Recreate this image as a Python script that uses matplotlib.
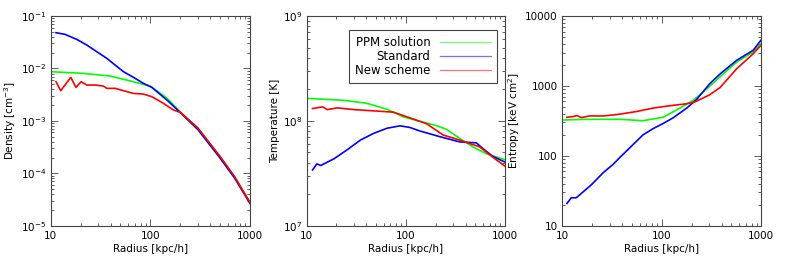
"""Radial profiles: density, temperature and entropy for three hydro schemes."""

import matplotlib

matplotlib.use("Agg")
import matplotlib.pyplot as plt
from matplotlib.lines import Line2D
from matplotlib.ticker import FuncFormatter, LogLocator, NullFormatter

# --- density [cm^-3] ---
r_dens_ppm = [10, 21.3, 39.4, 67.6, 99.5, 147, 200, 300, 500, 700, 1000]
dens_ppm = [0.00867, 0.00805, 0.00716, 0.00558, 0.00461, 0.0027, 0.00148,
            0.00072, 0.000208, 8.6e-5, 2.8e-5]
r_dens_std = [11.3, 13.9, 18.2, 23.0, 29.0, 36.5, 44.3, 53.7, 67.6, 85.2,
              103.5, 150, 200, 300, 500, 700, 1000]
dens_std = [0.048, 0.0447, 0.0359, 0.028, 0.0208, 0.0156, 0.0116, 0.00867,
            0.00676, 0.00519, 0.00435, 0.0024, 0.00143, 0.00068, 0.000195,
            8.1e-5, 2.65e-5]
r_dens_new = [11.3, 12.6, 15.9, 17.9, 20.2, 23.0, 27.9, 33.8, 36.5, 44.3,
              53.7, 67.6, 85.2, 103.5, 135, 170.6, 200, 300, 500, 700, 1000]
dens_new = [0.00558, 0.00376, 0.00676, 0.00436, 0.00558, 0.00482, 0.00482,
            0.00461, 0.00417, 0.00417, 0.00376, 0.00334, 0.00324, 0.00289,
            0.00216, 0.00161, 0.00145, 0.00073, 0.00021, 8.6e-5, 2.75e-5]

# --- temperature [K] ---
r_temp_ppm = [10, 23.8, 40.7, 64.6, 94.8, 139, 204, 257, 349, 475, 646, 1000]
temp_ppm = [1.64e8, 1.57e8, 1.47e8, 1.29e8, 1.09e8, 9.9e7, 9.0e7, 8.3e7,
            6.8e7, 5.65e7, 4.86e7, 4.26e7]
r_temp_std = [11.5, 12.7, 13.9, 18.9, 25.7, 34.9, 47.5, 64.6, 87.8, 110, 139,
              220, 349, 513, 598, 753, 1000]
temp_std = [3.4e7, 3.89e7, 3.75e7, 4.35e7, 5.3e7, 6.56e7, 7.6e7, 8.5e7,
            8.97e7, 8.65e7, 8.0e7, 7.07e7, 6.3e7, 6.17e7, 5.45e7, 4.58e7,
            4.04e7]
r_temp_new = [11.5, 14.5, 16.2, 20.4, 30, 51.3, 75.3, 119, 162, 238, 349,
              554, 753, 1000]
temp_new = [1.31e8, 1.36e8, 1.28e8, 1.33e8, 1.28e8, 1.24e8, 1.21e8, 1.04e8,
            9.4e7, 7.33e7, 6.56e7, 5.65e7, 4.5e7, 3.69e7]

# --- entropy [keV cm^2] ---
r_entr_ppm = [10, 17.6, 38, 65, 103.5, 152, 207, 282, 384, 565, 832, 1000]
entr_ppm = [325, 333, 333, 318, 356, 480, 620, 900, 1350, 2190, 3070, 4070]
r_entr_std = [11.2, 12.4, 13.9, 19.7, 25.8, 32.6, 38, 51.7, 65.2, 82.2, 103.5,
              130.5, 178, 224, 305, 385, 565, 832, 1000]
entr_std = [20.8, 25.1, 25.1, 38.5, 57, 75.5, 94.5, 145, 200, 245, 290, 350,
            480, 640, 1080, 1480, 2320, 3250, 4560]
r_entr_new = [11.2, 12.9, 14.1, 15.6, 19, 25.8, 38, 55.8, 82.2, 121, 178, 215,
              300, 385, 565, 832, 1000]
entr_new = [356, 364, 377, 352, 372, 371, 394, 430, 482, 521, 555, 590, 740,
            946, 1754, 2900, 3850]

labels = ["PPM solution", "Standard", "New scheme"]
colors = ["#00ff00", "#0000ff", "#ff0000"]

plt.rcParams["font.family"] = ["DejaVu Sans"]
plt.rcParams["font.size"] = 7.5

fig = plt.figure(figsize=(7.89, 2.62), dpi=100)
axes = [
    fig.add_axes([0.0643, 0.1385, 0.2526, 0.8004]),
    fig.add_axes([0.3885, 0.1385, 0.2516, 0.8004]),
    fig.add_axes([0.7123, 0.1385, 0.2526, 0.8004]),
]

panels = [
    ([(r_dens_ppm, dens_ppm), (r_dens_std, dens_std), (r_dens_new, dens_new)],
     (1e-5, 1e-1), "Density [cm$^{-3}$]"),
    ([(r_temp_ppm, temp_ppm), (r_temp_std, temp_std), (r_temp_new, temp_new)],
     (1e7, 1e9), "Temperature [K]"),
    ([(r_entr_ppm, entr_ppm), (r_entr_std, entr_std), (r_entr_new, entr_new)],
     (10, 1e4), "Entropy [keV cm$^2$]"),
]

edge = "#444444"
for i, (ax, (series, ylim, ylabel)) in enumerate(zip(axes, panels)):
    for (x, y), c in zip(series, colors):
        ax.plot(x, y, color=c, lw=1.2, solid_joinstyle="round")
    ax.set_xscale("log")
    ax.set_yscale("log")
    ax.set_xlim(10, 1000)
    ax.set_ylim(*ylim)
    ax.set_xlabel("Radius [kpc/h]", labelpad=2)
    ax.set_ylabel(ylabel, labelpad=2)
    ax.xaxis.set_major_formatter(FuncFormatter(lambda v, _: f"{v:g}"))
    if i == 2:
        ax.yaxis.set_major_formatter(FuncFormatter(lambda v, _: f"{v:.0f}"))
    ax.yaxis.set_minor_locator(LogLocator(base=10, subs=range(2, 10)))
    ax.yaxis.set_minor_formatter(NullFormatter())
    ax.xaxis.set_minor_formatter(NullFormatter())
    ax.tick_params(which="both", direction="in", top=True, right=True,
                   color=edge, width=0.6)
    ax.tick_params(which="major", length=5, pad=3)
    ax.tick_params(axis="x", which="major", pad=4)
    ax.tick_params(which="minor", length=2.5)
    for s in ax.spines.values():
        s.set_color(edge)
        s.set_linewidth(0.8)

handles = [Line2D([], [], color=c, lw=0.9, alpha=0.55) for c in colors]
leg = axes[1].legend(handles, labels, loc="upper right",
                     bbox_to_anchor=(0.96, 0.933), borderaxespad=0,
                     markerfirst=False, fancybox=False, fontsize=8.5,
                     handlelength=4.3, handletextpad=0.85, labelspacing=0.1,
                     borderpad=0.5, framealpha=1)
leg.get_frame().set_edgecolor(edge)
leg.get_frame().set_linewidth(0.8)

fig.savefig("out.png", dpi=100)
